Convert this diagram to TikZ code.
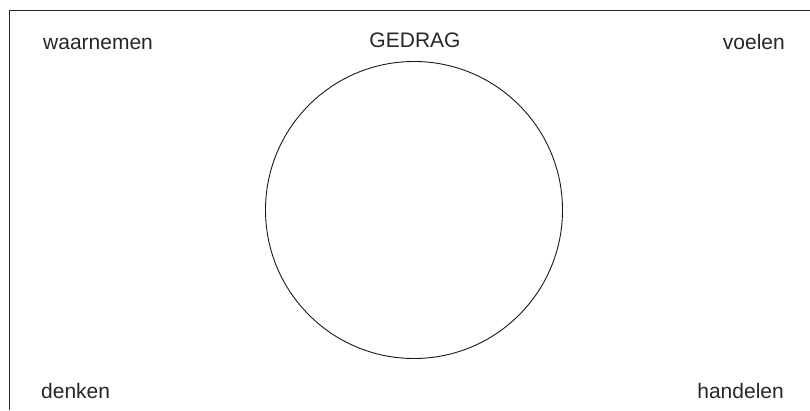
\documentclass[tikz,border=0pt]{standalone}
\usepackage{fontspec}
\setmainfont{Liberation Sans}
\begin{document}
\begin{tikzpicture}[x=1pt,y=1pt,
  lbl/.style={font=\fontsize{21}{24}\selectfont, inner sep=0pt, text=black!85},
  frameline/.style={line width=1pt, black!85},
  ring/.style={draw, line width=0.9pt, black!90}]
\useasboundingbox (0,0) rectangle (810,410);
\coordinate (tl) at (9,399);
\coordinate (tr) at (810,399);
\coordinate (bl) at (9,0);
\draw[frameline] (bl) -- (tl) -- (tr);
\node[ring, circle, minimum size=297pt, inner sep=0pt] (c) at (414,200) {};
\node[lbl, anchor=base west] (w) at (43,360) {waarnemen};
\node[lbl, anchor=base] (g) at (415,362) {GEDRAG};
\node[lbl, anchor=base east] (v) at (785,360) {voelen};
\node[lbl, anchor=base west] (d) at (41,12) {denken};
\node[lbl, anchor=base east] (h) at (784,12) {handelen};
\end{tikzpicture}
\end{document}
